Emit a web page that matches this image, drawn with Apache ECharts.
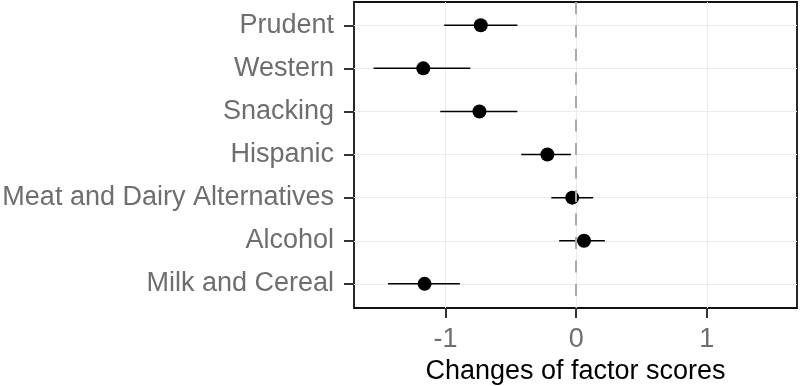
<!DOCTYPE html>
<html>
<head>
<meta charset="utf-8">
<script src="https://cdn.jsdelivr.net/npm/echarts@6/dist/echarts.min.js"></script>
<style>
  html, body { margin: 0; padding: 0; background: #fff; }
  #main { width: 800px; height: 386px; }
</style>
</head>
<body>
<div id="main"></div>
<script>
// factor names, top to bottom
var categories = ['Prudent', 'Western', 'Snacking', 'Hispanic',
    'Meat and Dairy Alternatives', 'Alcohol', 'Milk and Cereal'];
var estimate = [-0.73, -1.17, -0.74, -0.22, -0.03, 0.06, -1.16];
var lower = [-1.01, -1.55, -1.04, -0.42, -0.19, -0.13, -1.44];
var upper = [-0.45, -0.81, -0.45, -0.04, 0.13, 0.22, -0.89];
var xTicks = [-1, 0, 1];
var yTicks = [1, 2, 3, 4, 5, 6, 7];

var myChart = echarts.init(document.getElementById('main'));

var pointData = estimate.map(function (v, i) { return [v, i + 1]; });
var barData = lower.map(function (v, i) { return [v, upper[i], i + 1]; });

var labelFont = 'Liberation Sans';

var option = {
    animation: false,
    grid: {
        left: 354,
        right: 3,
        top: 2,
        bottom: 78,
        show: true,
        borderColor: '#111',
        borderWidth: 1.8,
        outerBoundsMode: 'none'
    },
    xAxis: {
        type: 'value',
        min: -1.7,
        max: 1.69,
        name: 'Changes of factor scores',
        nameLocation: 'middle',
        nameGap: 50,
        nameTextStyle: { color: '#000', fontSize: 27, fontFamily: labelFont },
        axisLine: { show: false, onZero: false },
        axisTick: { show: true, length: 10, lineStyle: { color: '#333', width: 2 }, customValues: xTicks },
        axisLabel: { color: '#6e6e6e', fontSize: 27, fontFamily: labelFont, margin: 18, customValues: xTicks },
        splitLine: { show: true, lineStyle: { color: '#ebebeb', width: 1 } }
    },
    yAxis: {
        type: 'value',
        inverse: true,
        min: 0.46,
        max: 7.56,
        axisLine: { show: false, onZero: false },
        axisTick: { show: true, length: 10, lineStyle: { color: '#333', width: 2 }, customValues: yTicks },
        axisLabel: {
            color: '#6e6e6e', fontSize: 27, fontFamily: labelFont, margin: 20, customValues: yTicks,
            formatter: function (v) { return categories[Math.round(v) - 1] || ''; }
        },
        splitLine: { show: true, lineStyle: { color: '#ebebeb', width: 1 } }
    },
    series: [
        {
            // error bars
            type: 'custom',
            data: barData,
            renderItem: function (params, api) {
                var a = api.coord([api.value(0), api.value(2)]);
                var b = api.coord([api.value(1), api.value(2)]);
                return {
                    type: 'line',
                    shape: { x1: a[0], y1: a[1], x2: b[0], y2: b[1] },
                    style: { stroke: '#000', lineWidth: 1.5 }
                };
            },
            encode: { x: [0, 1], y: 2 },
            z: 3
        },
        {
            type: 'scatter',
            data: pointData,
            symbol: 'circle',
            symbolSize: 14,
            itemStyle: { color: '#000', opacity: 1 },
            z: 4,
            markLine: {
                silent: true,
                symbol: 'none',
                label: { show: false },
                lineStyle: { color: '#aaa', type: [12, 11.5], width: 2 },
                data: [{ xAxis: 0 }]
            }
        }
    ]
};

myChart.setOption(option, true);
window.onresize = myChart.resize;
</script>
</body>
</html>
